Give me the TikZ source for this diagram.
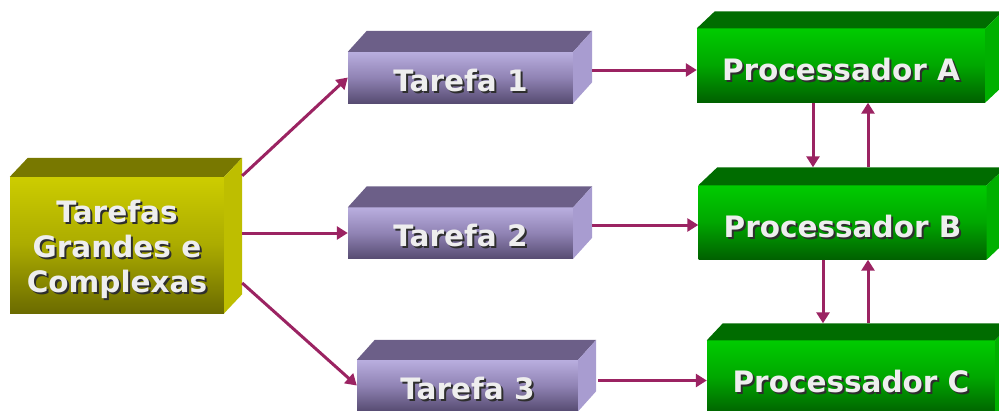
\documentclass[tikz,border=0pt]{standalone}
\usepackage{fontspec}
\setmainfont{DejaVu Sans}
\usepackage{tikz}
\usetikzlibrary{arrows.meta,calc}

\definecolor{olive300}{HTML}{CDCD00}
\definecolor{olive500}{HTML}{ABAB00}
\definecolor{olive600}{HTML}{BEBE00}
\definecolor{olive800}{HTML}{6B6B00}
\definecolor{olive900}{HTML}{787800}
\definecolor{purple200}{HTML}{B9AEDF}
\definecolor{purple400}{HTML}{9083B4}
\definecolor{purple300}{HTML}{A89CD0}
\definecolor{purple800}{HTML}{574C72}
\definecolor{purple700}{HTML}{6C5F88}
\definecolor{green300}{HTML}{00CC00}
\definecolor{green500}{HTML}{00A600}
\definecolor{green400}{HTML}{00B000}
\definecolor{green800}{HTML}{006000}
\definecolor{green700}{HTML}{006C00}
\definecolor{wine600}{HTML}{9B2362}
\definecolor{letra}{HTML}{EEEEEE}
\definecolor{sombra}{HTML}{2E2E2E}

% texto claro com sombra escura
\newcommand{\rotulo}[1]{\makebox[0pt][l]{\kern2pt\raisebox{-2pt}{\color{sombra}#1}}{\color{letra}#1}}

\begin{document}
\begin{tikzpicture}[
    x=1pt, y=-1pt,
    font=\bfseries\fontsize{29.5}{35}\selectfont,
    face/.style={rectangle, inner sep=0pt, align=center},
    yellowFace/.style={face, top color=olive300, bottom color=olive800, middle color=olive500,
        text height=104pt},
    purpleFace/.style={face, top color=purple200, bottom color=purple800, middle color=purple400,
        minimum width=225pt, minimum height=51pt, text height=27pt, text depth=0pt},
    greenFace/.style={face, top color=green300, bottom color=green800, middle color=green500,
        minimum width=288pt, minimum height=74pt, text height=29pt, text depth=0pt},
    arrow/.style={-{Triangle[length=11pt,width=13pt]}, line width=3pt, draw=wine600}
]

    \useasboundingbox (0,0) rectangle (999,410);

    % faces frontais
    \node[yellowFace, minimum width=214pt, minimum height=136pt] (grande) at (117,245)
        {\rotulo{Tarefas}\\ \rotulo{Grandes e}\\ \rotulo{Complexas}};

    \node[purpleFace] (t1) at (460.5,77.5) {\rotulo{Tarefa 1}};
    \node[purpleFace] (t2) at (460.5,233) {\rotulo{Tarefa 2}};
    \node[purpleFace, minimum width=221pt] (t3) at (467.5,385.5) {\rotulo{Tarefa 3}};

    \node[greenFace] (pA) at (841,65.5) {\rotulo{Processador A}};
    \node[greenFace] (pB) at (842.5,222.5) {\rotulo{Processador B}};
    \node[greenFace] (pC) at (851,377.5) {\rotulo{Processador C}};

    % topo e lateral de cada bloco
    \foreach \n/\dx/\dy/\tc/\sc in {grande/18/19/olive900/olive600, t1/19/21/purple700/purple300,
            t2/19/21/purple700/purple300, t3/18/20/purple700/purple300,
            pA/18/17/green700/green400, pB/19/18/green700/green400, pC/16/17/green700/green400} {
        \fill[\tc] (\n.north west) -- ++(\dx,-\dy) -- ($(\n.north east)+(\dx,-\dy)$) -- (\n.north east) -- cycle;
        \fill[\sc] (\n.north east) -- ++(\dx,-\dy) -- ($(\n.south east)+(\dx,-\dy)$) -- (\n.south east) -- cycle;
    }

    \coordinate (g1) at ($(grande.north east)+(18,-1)$);
    \coordinate (g2) at ($(grande.east)+(18,-12)$);
    \coordinate (g3) at ($(grande.east)+(18,38)$);
    \coordinate (s1) at ($(t1.east)+(19,-7.5)$);
    \coordinate (s2) at ($(t2.east)+(19,-8)$);
    \coordinate (s3) at ($(t3.east)+(20,-5)$);
    \coordinate (pB-top) at ($(pB.north)+(0,-18)$);
    \coordinate (pC-top) at ($(pC.north)+(0,-17)$);

    \draw[arrow] (g1) -- (t1.west);
    \draw[arrow] (g2) -- (t2.west);
    \draw[arrow] (g3) -- (t3.west);

    \draw[arrow] (s1) -- (s1 -| pA.west);
    \draw[arrow] (s2) -- (s2 -| pB.west);
    \draw[arrow] (s3) -- (s3 -| pC.west);

    \draw[arrow] ($(pA.south)+(-28,0)$) coordinate (ab) -- (ab |- pB-top);
    \draw[arrow] ($(pB-top)+(25.5,0)$) coordinate (ba) -- (ba |- pA.south);
    \draw[arrow] ($(pB.south)+(-19.5,0)$) coordinate (bc) -- (bc |- pC-top);
    \draw[arrow] ($(pC-top)+(17,0)$) coordinate (cb) -- (cb |- pB.south);

\end{tikzpicture}
\end{document}
